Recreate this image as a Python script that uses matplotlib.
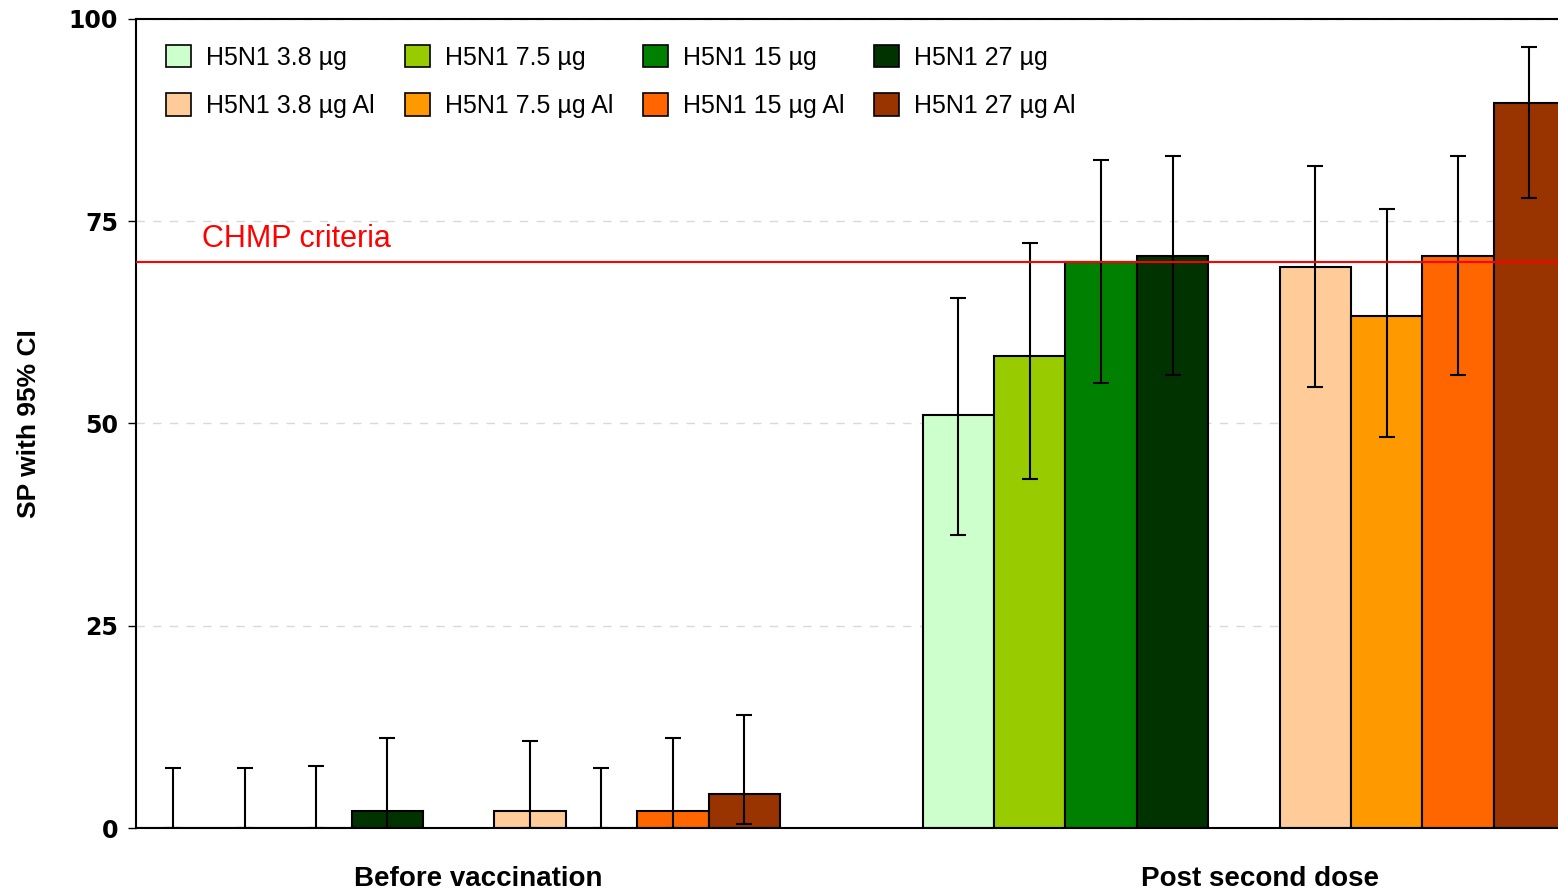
import matplotlib
matplotlib.use("Agg")
import matplotlib.pyplot as plt
from matplotlib.patches import Patch
import numpy as np

# data
groups = ["Before vaccination", "Post second dose"]
series = ["H5N1 3.8 µg", "H5N1 7.5 µg", "H5N1 15 µg", "H5N1 27 µg",
          "H5N1 3.8 µg Al", "H5N1 7.5 µg Al", "H5N1 15 µg Al", "H5N1 27 µg Al"]
colors = ["#ccffcc", "#99cc00", "#008000", "#003300",
          "#ffcc99", "#ff9900", "#ff6600", "#993300"]

before_sp = [0, 0, 0, 2.1, 2.1, 0, 2.1, 4.2]
before_lo = [0, 0, 0, 0, 0, 0, 0, 0.5]
before_hi = [7.4, 7.4, 7.7, 11.1, 10.8, 7.4, 11.1, 14.0]

post_sp = [51.0, 58.3, 70.0, 70.7, 69.3, 63.3, 70.7, 89.6]
post_lo = [36.2, 43.1, 55.0, 56.0, 54.5, 48.3, 56.0, 77.9]
post_hi = [65.5, 72.3, 82.6, 83.1, 81.8, 76.5, 83.1, 96.5]

chmp = 70

# slot layout: 4 bars, empty slot, 4 bars; second group 11 slots later
slots = np.array([0, 1, 2, 3, 5, 6, 7, 8])
group_offset = [0, 11]

fig = plt.figure(figsize=(15.58, 8.91), dpi=100)
ax = fig.add_axes([0.0873, 0.0707, 0.9127, 0.908])

for off, sp, lo, hi in zip(group_offset, [before_sp, post_sp],
                           [before_lo, post_lo], [before_hi, post_hi]):
    x = slots + off
    sp = np.array(sp)
    yerr = [sp - np.array(lo), np.array(hi) - sp]
    ax.bar(x, sp, width=1.0, color=colors, edgecolor="black",
           linewidth=1.5, zorder=2)
    ax.errorbar(x, sp, yerr=yerr, fmt="none", ecolor="black",
                elinewidth=1.5, capsize=6, capthick=1.5, zorder=3)

ax.axhline(chmp, color="red", linewidth=1.5, zorder=4)
ax.text(0.4, chmp + 0.9, "CHMP criteria", color="red", fontsize=22,
        family="Liberation Sans", va="bottom")

ax.set_xlim(-0.52, 19.4)
ax.set_ylim(0, 100)
ax.set_yticks([0, 25, 50, 75, 100])
ax.yaxis.grid(True, linestyle=(0, (6, 6)), color="#d9d9d9", linewidth=1, zorder=0)
ax.set_axisbelow(True)
for lab in ax.get_yticklabels():
    lab.set_fontweight("bold")
    lab.set_fontsize(17)
    lab.set_family("DejaVu Sans")
ax.tick_params(axis="y", length=6, width=1, pad=7)

ax.set_xticks([4.27, 15.22])
ax.set_xticklabels(groups, fontsize=20, fontweight="bold",
                   family="Liberation Sans")
ax.tick_params(axis="x", length=0, pad=27)

ax.set_ylabel("SP with 95% CI", fontsize=19, fontweight="bold",
              family="Liberation Sans")
ax.yaxis.set_label_coords(-0.067, 0.5)

ax.spines["right"].set_visible(False)
for s in ["left", "top", "bottom"]:
    ax.spines[s].set_linewidth(1.5)

# legend: row 1 plain, row 2 adjuvanted (matplotlib fills column-wise)
handles = [Patch(facecolor=c, edgecolor="black", linewidth=1.2) for c in colors]
order = [0, 4, 1, 5, 2, 6, 3, 7]
ax.legend([handles[i] for i in order], [series[i] for i in order], ncol=4,
          loc="upper left", bbox_to_anchor=(0.021, 0.968), frameon=False,
          prop={"family": "Liberation Sans", "size": 18},
          handlelength=1.0, handleheight=1.0, handletextpad=0.6,
          columnspacing=1.2, labelspacing=0.95, borderaxespad=0, borderpad=0)

fig.savefig("out.png", dpi=100)
